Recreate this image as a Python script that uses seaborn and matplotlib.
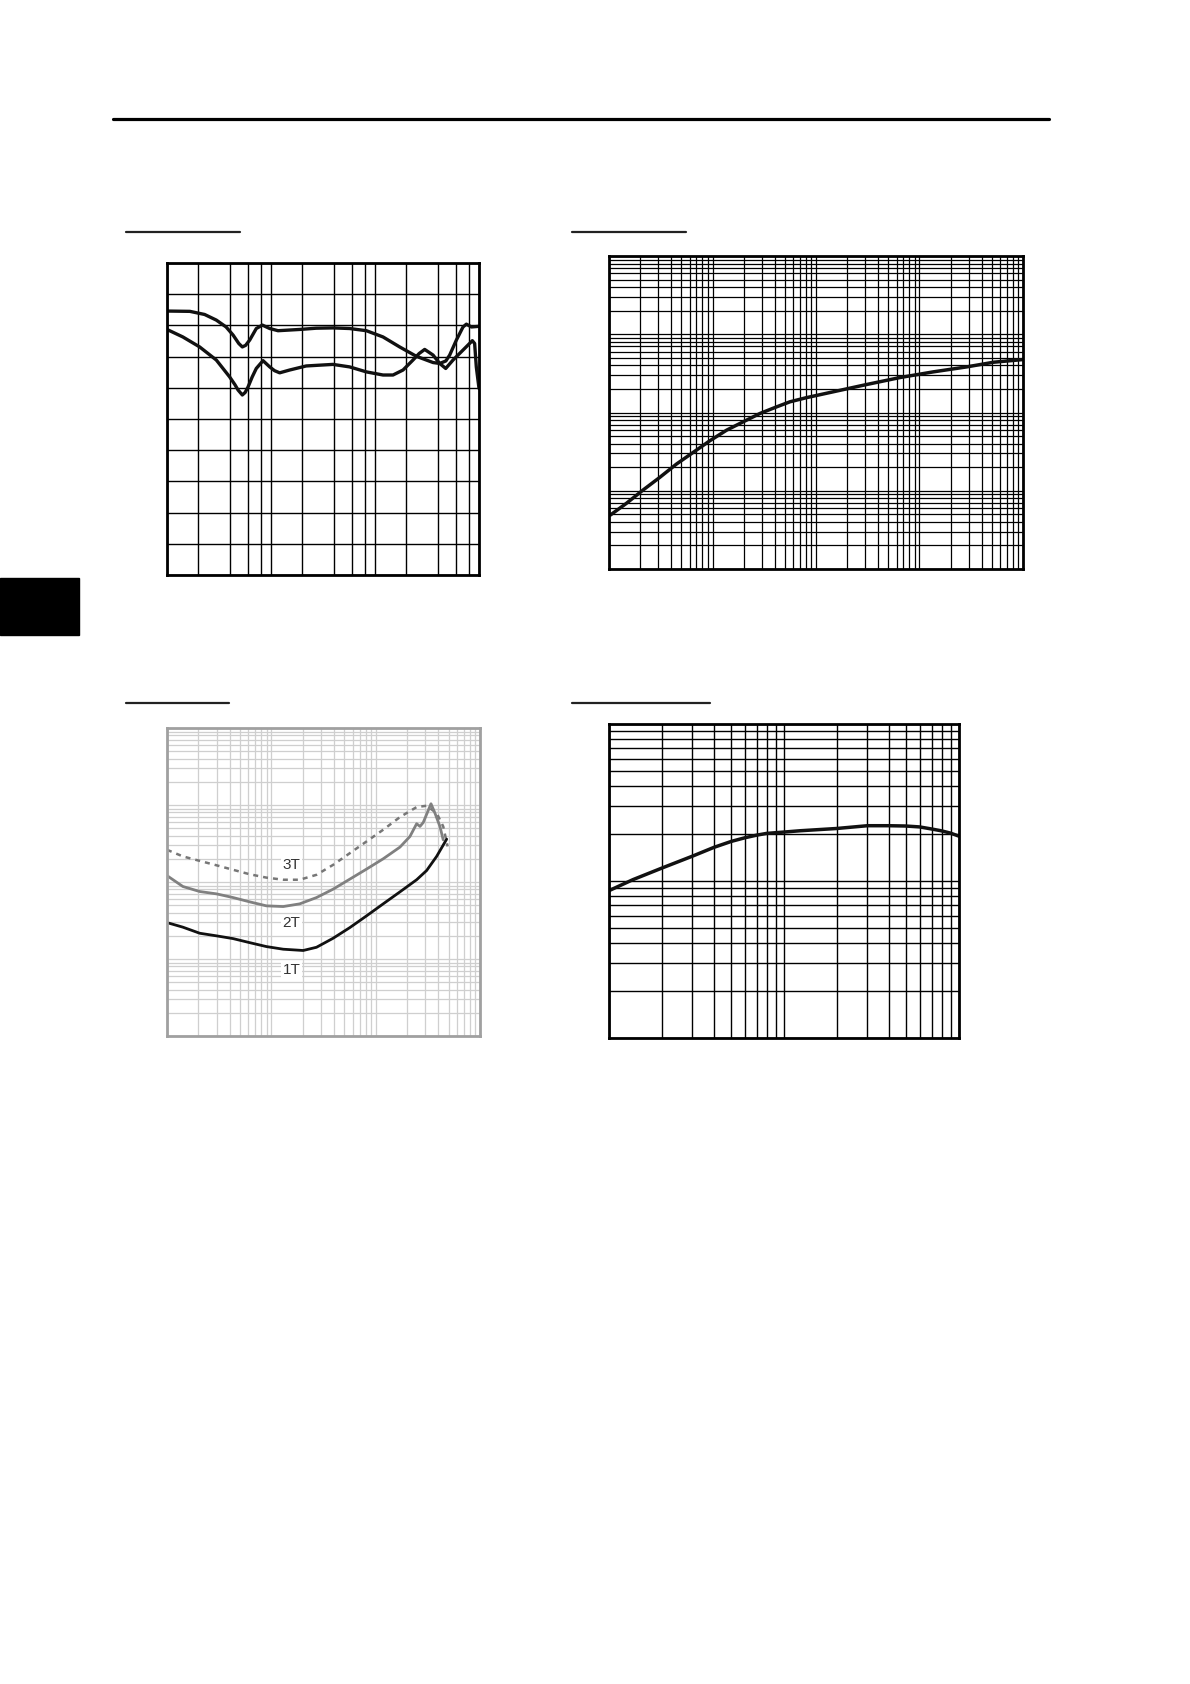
import matplotlib
matplotlib.use("Agg")
import matplotlib.pyplot as plt
from matplotlib.ticker import LogLocator, NullFormatter, MultipleLocator
from matplotlib.patches import Rectangle
from matplotlib.lines import Line2D
import seaborn as sns

sns.set_style("white")
plt.rcParams['font.family'] = ['Liberation Sans Narrow', 'Liberation Sans', 'DejaVu Sans']

W, H = 1190, 1684

# --- panel 1: two response curves, log x (5..5000), linear y (10 divisions)
p1_x_a = [5, 8.3, 11.5, 14.9, 18.5, 21.6, 24.5, 26.5, 28.5, 31.2, 36.1, 41.3, 48.6, 58.4,
          94.3, 136, 197, 285, 413, 597, 863, 1248, 1807, 2095, 2400, 2614, 3030, 3510,
          3780, 4220, 5000]
p1_y_a = [8.46, 8.45, 8.35, 8.17, 7.95, 7.69, 7.42, 7.31, 7.36, 7.53, 7.90, 8.01, 7.90, 7.83,
          7.87, 7.91, 7.92, 7.90, 7.83, 7.63, 7.31, 7.01, 6.81, 6.78, 6.86, 7.05, 7.53, 7.95,
          8.04, 7.95, 7.97]
p1_x_b = [5, 7.1, 10.3, 14.9, 20, 22.5, 24.1, 26.5, 28.2, 30.1, 33.0, 36.1, 41.9, 48.6, 54.0,
          60.6, 75.6, 109, 197, 285, 413, 597, 745, 930, 1159, 1330, 1502, 1807, 2095,
          2393, 2813, 3510, 4315, 4540, 4710, 5000]
p1_y_b = [7.87, 7.63, 7.31, 6.89, 6.35, 6.10, 5.93, 5.77, 5.85, 6.03, 6.35, 6.62, 6.87, 6.67,
          6.55, 6.48, 6.57, 6.70, 6.75, 6.67, 6.51, 6.41, 6.41, 6.57, 6.89, 7.10, 7.23, 7.05,
          6.78, 6.62, 6.89, 7.21, 7.51, 7.42, 6.67, 5.98]

# --- panel 2: log-log, one rising curve
p2_x = [1.03, 1.47, 2.13, 3.09, 4.48, 6.5, 9.42, 13.7, 19.8, 28.7, 41.6, 56.0, 81.2, 147,
        309, 650, 1366, 2870, 5200, 10000]
p2_y = [4.89, 6.89, 10.2, 14.8, 21.9, 30.9, 43.5, 59.5, 76.0, 97.1, 118, 137, 155, 184,
        228, 280, 331, 383, 439, 475]

# --- panel 3: 1T / 2T / 3T on log-log grid
p3_x = [1.0, 1.42, 2.06, 2.97, 4.30, 6.21, 8.97, 13.0]
p3_1t_x = p3_x + [20.2, 27.1, 39.1, 56.6, 81.7, 118, 171, 247, 308, 384, 479]
p3_1t_y = [29.7, 25.9, 21.6, 20.0, 18.4, 16.3, 14.5, 13.4, 12.9, 14.2, 18.6, 25.6, 36.3,
           52.0, 74.5, 107, 141, 215, 360]
p3_2t_x = p3_x + [18.7, 27.1, 39.1, 56.6, 81.7, 118, 171, 213, 247, 266, 286, 339, 370,
                  413, 444]
p3_2t_y = [121, 87.4, 75.2, 70.2, 62.8, 55.2, 49.0, 48.0, 52.0, 62.8, 80.7, 109, 147, 200,
           284, 390, 571, 527, 594, 1038, 785, 527, 353]
p3_3t_x = p3_x + [18.7, 27.1, 39.1, 56.6, 81.7, 118, 171, 247, 308, 384, 444, 489]
p3_3t_y = [262, 215, 188, 165, 144, 126, 114, 107, 107, 124, 167, 237, 336, 477, 697, 940,
           978, 785, 527, 290]
p3_labels = ["3T", "2T", "1T"]
p3_label_y = [164, 29.2, 7.21]
p3_label_x = 15.6

# --- panel 4: log-log, flat-topped curve
p4_x = [1.0, 1.37, 2.01, 3.0, 3.99, 5.02, 6.03, 7.0, 7.96, 10.0, 12.4, 20.0, 30.0, 39.7,
        49.5, 59.6, 68.8, 78.9, 89.2, 100]
p4_y = [8.68, 10.2, 12.1, 14.4, 16.4, 17.9, 18.9, 19.6, 20.1, 20.5, 20.9, 21.6, 22.5, 22.5,
        22.4, 22.1, 21.5, 20.9, 20.2, 19.3]


def add_ax(x0, y0, x1, y1):
    return fig.add_axes([x0 / W, 1 - y1 / H, (x1 - x0) / W, (y1 - y0) / H])


def clean(ax, color="black", lw=1.6):
    ax.tick_params(which="both", length=0, labelbottom=False, labelleft=False)
    ax.xaxis.set_minor_formatter(NullFormatter())
    ax.yaxis.set_minor_formatter(NullFormatter())
    for s in ax.spines.values():
        s.set_visible(True)
        s.set_color(color)
        s.set_linewidth(lw)
    ax.set_xlabel("")
    ax.set_ylabel("")


def log_grid(ax, subs=range(2, 10)):
    for a in (ax.xaxis, ax.yaxis):
        a.set_major_locator(LogLocator(base=10, numticks=10))
        a.set_minor_locator(LogLocator(base=10, subs=subs, numticks=40))


fig = plt.figure(figsize=(W / 100, H / 100), dpi=100)

# header rule, side tab and section underlines
fig.add_artist(Line2D([113 / W, 1049 / W], [1 - 119 / H, 1 - 119 / H], color="black", lw=2.3))
fig.add_artist(Rectangle((0, 1 - 635 / H), 79 / W, 57 / H, color="black", transform=fig.transFigure))
for x0, x1, y in [(126, 240, 232), (572, 686, 232), (126, 229, 703), (572, 710, 703)]:
    fig.add_artist(Line2D([x0 / W, x1 / W], [1 - y / H, 1 - y / H], color="#222222", lw=1.6))

# panel 1
ax1 = add_ax(167, 263, 479, 575)
sns.lineplot(x=p1_x_a, y=p1_y_a, ax=ax1, color="#111111", lw=2.4, estimator=None, sort=False)
sns.lineplot(x=p1_x_b, y=p1_y_b, ax=ax1, color="#111111", lw=2.4, estimator=None, sort=False)
ax1.set_xscale("log")
ax1.set_xlim(5, 5000)
ax1.set_ylim(0, 10)
ax1.xaxis.set_major_locator(LogLocator(base=10, numticks=10))
ax1.xaxis.set_minor_locator(LogLocator(base=10, subs=[2, 3, 4, 5], numticks=20))
ax1.yaxis.set_major_locator(MultipleLocator(1))
ax1.grid(True, which="both", color="black", lw=1.0)
clean(ax1, lw=2.0)

# panel 2
ax2 = add_ax(609, 256, 1023, 569)
sns.lineplot(x=p2_x, y=p2_y, ax=ax2, color="#111111", lw=2.5, estimator=None, sort=False)
ax2.set_xscale("log")
ax2.set_yscale("log")
ax2.set_xlim(1, 10000)
ax2.set_ylim(1, 10000)
log_grid(ax2)
ax2.grid(True, which="both", color="black", lw=0.9)
clean(ax2, lw=2.0)

# panel 3
ax3 = add_ax(167, 728, 480, 1036)
ax3.set_xscale("log")
ax3.set_yscale("log")
ax3.set_xlim(1, 1000)
ax3.set_ylim(1, 10000)
log_grid(ax3)
ax3.grid(True, which="both", color="#cfcfcf", lw=0.9)
sns.lineplot(x=p3_3t_x, y=p3_3t_y, ax=ax3, color="#777777", lw=1.8, ls=(0, (2, 2)),
             estimator=None, sort=False)
sns.lineplot(x=p3_2t_x, y=p3_2t_y, ax=ax3, color="#808080", lw=2.0, estimator=None, sort=False)
sns.lineplot(x=p3_1t_x, y=p3_1t_y, ax=ax3, color="#111111", lw=2.0, estimator=None, sort=False)
for lab, ly in zip(p3_labels, p3_label_y):
    ax3.text(p3_label_x, ly, lab, ha="center", va="center", fontsize=11, color="#333333",
             bbox=dict(facecolor="white", edgecolor="none", pad=1.0))
clean(ax3, color="#a0a0a0", lw=2.0)

# panel 4
ax4 = add_ax(609, 724, 959, 1038)
sns.lineplot(x=p4_x, y=p4_y, ax=ax4, color="#111111", lw=2.5, estimator=None, sort=False)
ax4.set_xscale("log")
ax4.set_yscale("log")
ax4.set_xlim(1, 100)
ax4.set_ylim(1, 100)
log_grid(ax4)
ax4.grid(True, which="both", color="black", lw=1.0)
clean(ax4, lw=2.0)

fig.savefig("out.png", dpi=100, facecolor="white")
